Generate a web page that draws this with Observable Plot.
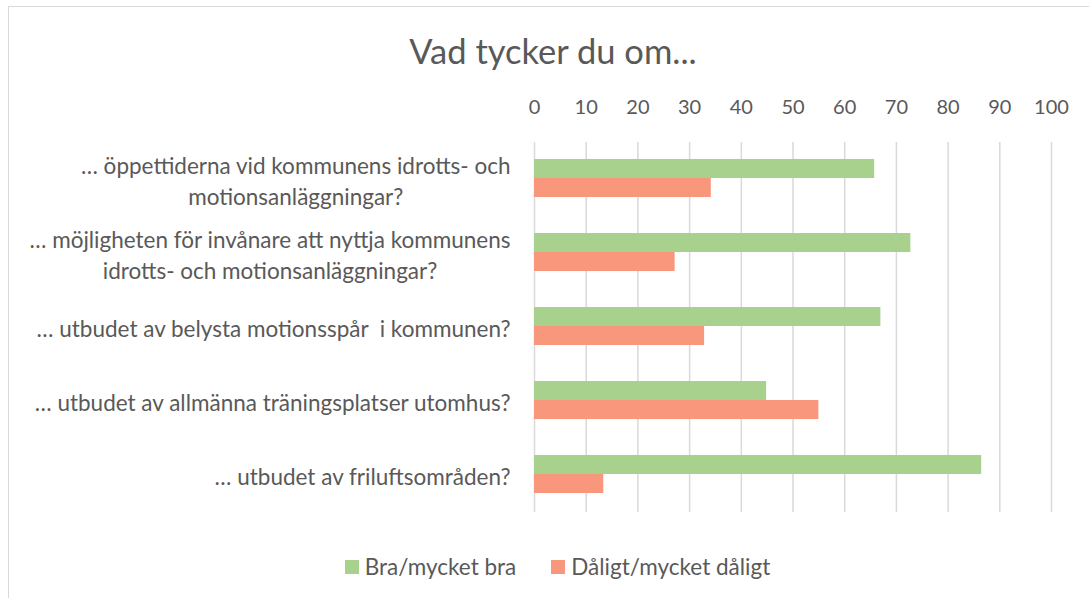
<!DOCTYPE html>
<html><head><meta charset="utf-8">
<script src="https://cdn.jsdelivr.net/npm/d3@7"></script>
<script src="https://cdn.jsdelivr.net/npm/@observablehq/plot@0.6"></script>
<style>
body{margin:0;background:#fff;font-family:Lato,"Open Sans",sans-serif;color:#595959;overflow:hidden;}
#frame{position:absolute;left:8px;top:6px;width:1200px;height:700px;border:1px solid #d9d9d9;}
#title{position:absolute;left:0;width:1106px;top:31px;text-align:center;font-size:34.5px;line-height:40px;color:#595959;}
#chart{position:absolute;left:0;top:80px;}
#legend{position:absolute;left:0;width:1115px;top:555px;display:flex;justify-content:center;gap:35px;font-size:22.5px;line-height:24px;}
#legend span.item{display:flex;align-items:center;gap:6px;}
#legend span.sw{display:inline-block;width:14px;height:14px;}
</style></head>
<body>
<div id="frame"></div>
<div id="title">Vad tycker du om...</div>
<div id="chart"></div>
<div id="legend"></div>
<script>
const categories = [
  "… öppettiderna vid kommunens idrotts- och\nmotionsanläggningar?",
  "… möjligheten för invånare att nyttja kommunens\nidrotts- och motionsanläggningar?",
  "… utbudet av belysta motionsspår  i kommunen?",
  "… utbudet av allmänna träningsplatser utomhus?",
  "… utbudet av friluftsområden?"
];
const series = ["Bra/mycket bra", "Dåligt/mycket dåligt"];
const braValues = [65.8, 72.8, 67.0, 44.9, 86.5];
const daligtValues = [34.2, 27.2, 32.9, 55.0, 13.4];
const xTicks = [0, 10, 20, 30, 40, 50, 60, 70, 80, 90, 100];
const colors = ["#A9D18E", "#F9977C"];

const data = [];
categories.forEach((c, i) => {
  data.push({category: c, series: series[0], value: braValues[i]});
  data.push({category: c, series: series[1], value: daligtValues[i]});
});

const plot = Plot.plot({
  width: 1089,
  height: 443,
  marginLeft: 534,
  marginRight: 38,
  marginTop: 60,
  marginBottom: 10,
  style: {fontFamily: "Lato, 'Open Sans', sans-serif", color: "#595959", background: "transparent"},
  x: {domain: [0, 100]},
  fy: {domain: categories, padding: 0},
  y: {domain: series, padding: 0, insetTop: 17, insetBottom: 19, axis: null},
  color: {domain: series, range: colors},
  marks: [
    Plot.gridX(xTicks, {stroke: "#d9d9d9", strokeOpacity: 1, strokeWidth: 1.5}),
    Plot.barX(data, {x: "value", y: "series", fy: "category", fill: "series"}),
    Plot.axisX(xTicks, {anchor: "top", tickSize: 0, tickPadding: 29, fontSize: 20, label: null, tickFormat: d => String(d)}),
    Plot.axisFy({anchor: "left", tickSize: 0, tickPadding: 24, fontSize: 22.5, lineHeight: 1.38, label: null})
  ]
});
document.getElementById("chart").appendChild(plot);

// center multi-line labels within their right-aligned block
plot.querySelectorAll('g[aria-label="fy-axis tick label"] text').forEach(t => {
  const spans = t.querySelectorAll("tspan");
  if (spans.length > 1) {
    const w = t.getBBox().width;
    t.setAttribute("text-anchor", "middle");
    spans.forEach(s => s.setAttribute("x", -w / 2));
  }
});

const legend = document.getElementById("legend");
series.forEach((s, i) => {
  const item = document.createElement("span");
  item.className = "item";
  const sw = document.createElement("span");
  sw.className = "sw";
  sw.style.background = colors[i];
  item.appendChild(sw);
  item.appendChild(document.createTextNode(s));
  legend.appendChild(item);
});
</script>
</body></html>
